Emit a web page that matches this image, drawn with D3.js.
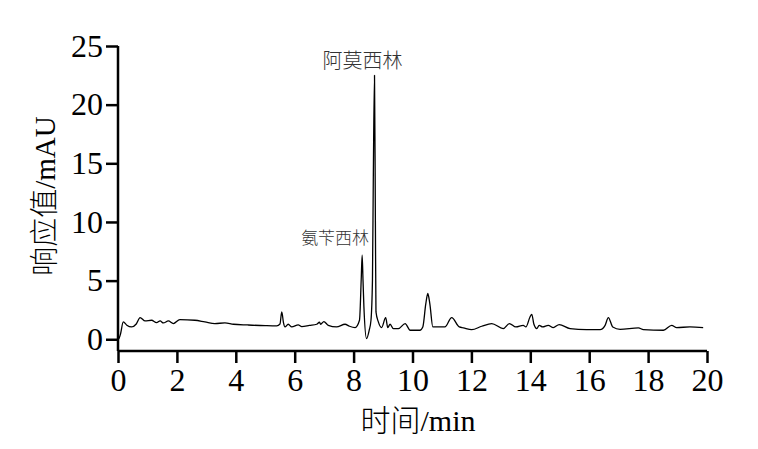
<!DOCTYPE html>
<html><head><meta charset="utf-8">
<script src="https://cdn.jsdelivr.net/npm/d3@7"></script>
<style>body{margin:0;background:#fff}svg{display:block}</style>
</head><body>
<svg id="c" width="758" height="449"></svg>
<script>
// Retention time (min) and response (mAU)
const times = [0.00,0.03,0.08,0.18,0.30,0.46,0.62,0.75,0.92,1.14,1.31,1.43,1.54,1.71,1.88,2.10,2.61,2.95,3.29,3.63,3.92,4.40,5.00,5.39,5.50,5.56,5.62,5.67,5.78,5.90,6.12,6.24,6.50,6.75,6.84,6.88,6.99,7.14,7.42,7.71,7.86,8.05,8.20,8.26,8.29,8.32,8.35,8.44,8.53,8.59,8.64,8.67,8.71,8.74,8.76,8.84,8.95,9.09,9.16,9.24,9.35,9.52,9.75,9.92,10.25,10.35,10.45,10.52,10.59,10.69,11.10,11.33,11.59,11.73,12.01,12.35,12.69,13.08,13.29,13.51,13.76,13.85,13.99,14.05,14.12,14.22,14.30,14.42,14.61,14.78,14.98,15.35,15.91,16.37,16.54,16.65,16.80,17.05,17.67,17.84,18.52,18.80,18.97,19.42,19.87];
const response = [0.00,0.05,0.40,1.48,1.20,1.05,1.30,1.85,1.56,1.62,1.42,1.56,1.39,1.56,1.34,1.68,1.62,1.48,1.34,1.39,1.28,1.22,1.16,1.14,1.30,2.33,1.40,1.05,1.28,1.05,1.22,1.08,1.18,1.28,1.45,1.28,1.51,1.19,1.05,1.28,1.11,1.00,1.62,5.20,7.17,5.00,2.76,0.06,0.77,1.62,5.00,14.0,22.5,10.0,2.33,1.48,1.00,1.85,1.00,1.28,0.91,0.91,1.34,0.77,0.77,1.05,3.00,3.90,3.00,1.05,1.05,1.85,1.05,0.97,0.82,1.11,1.34,0.91,1.34,1.05,1.19,1.05,1.90,2.13,1.30,0.91,1.19,1.05,1.19,1.00,1.25,0.91,0.82,0.82,1.19,1.85,1.05,0.85,0.97,0.82,0.77,1.19,1.00,1.05,1.00];
const xTicks = [0,2,4,6,8,10,12,14,16,18,20];
const yTicks = [0,5,10,15,20,25];
const peakNames = ["氨苄西林","阿莫西林"];
const peakTimes = [8.29,8.71];
const peakValues = [7.17,22.5];

const svg = d3.select("#c");
const x = d3.scaleLinear().domain([0,20]).range([118,707]);
const y = d3.scaleLinear().domain([-1,25]).range([351,46]);
const serif = "'Liberation Serif','Times New Roman',serif";
const cjk = "'Noto Sans CJK SC',sans-serif";

// axes
const xAxis = svg.append("g").attr("transform","translate(0,351)")
  .call(d3.axisBottom(x).tickValues(xTicks).tickSize(12).tickPadding(5).tickFormat(d3.format("d")));
const yAxis = svg.append("g").attr("transform","translate(118,0)")
  .call(d3.axisLeft(y).tickValues(yTicks).tickSize(12).tickPadding(3).tickFormat(d3.format("d")));
[xAxis,yAxis].forEach(g=>{
  g.attr("font-family",null).attr("font-size",null);
  g.select(".domain").attr("stroke","#000").attr("stroke-width",2.5);
  g.selectAll(".tick line").attr("stroke","#000").attr("stroke-width",2.5);
  g.selectAll(".tick text").attr("fill","#000").style("font-family",serif).style("font-size","32px");
});
yAxis.select(".domain").attr("d",`M0,${y(25)}V${y(-1)}`);
xAxis.select(".domain").attr("d",`M${x(0)},0H${x(20)}`);

// trace
const pts = times.map((t,i)=>[t,response[i]]);
svg.append("path").datum(pts)
  .attr("fill","none").attr("stroke","#000").attr("stroke-width",1.3)
  .attr("stroke-linejoin","round")
  .attr("d", d3.line().x(d=>x(d[0])).y(d=>y(d[1])).curve(d3.curveMonotoneX));

// peak labels
const lblDx = [-27, -12];
const lblDy = [-11, -7];
const lblSize = [17, 20];
peakNames.forEach((n,i)=>{
  svg.append("text").attr("x", x(peakTimes[i]) + lblDx[i]).attr("y", y(peakValues[i]) + lblDy[i])
    .attr("text-anchor","middle").attr("fill","#333")
    .style("font-family",cjk).style("font-weight",300).style("font-size", lblSize[i]+"px")
    .text(n);
});

// axis titles (CJK part light, Latin part serif)
function title(sel, zh, lat){
  sel.append("tspan").style("font-family",cjk).style("font-weight",300).text(zh);
  sel.append("tspan").style("font-family",serif).text(lat);
}
const xt = svg.append("text").attr("x",418).attr("y",431).attr("text-anchor","middle")
  .style("font-size","30px").attr("fill","#000");
title(xt,"时间","/min");
const yt = svg.append("text").attr("transform","translate(55,196) rotate(-90)").attr("text-anchor","middle")
  .style("font-size","29px").attr("fill","#000");
title(yt,"响应值","/mAU");
</script>
</body></html>
